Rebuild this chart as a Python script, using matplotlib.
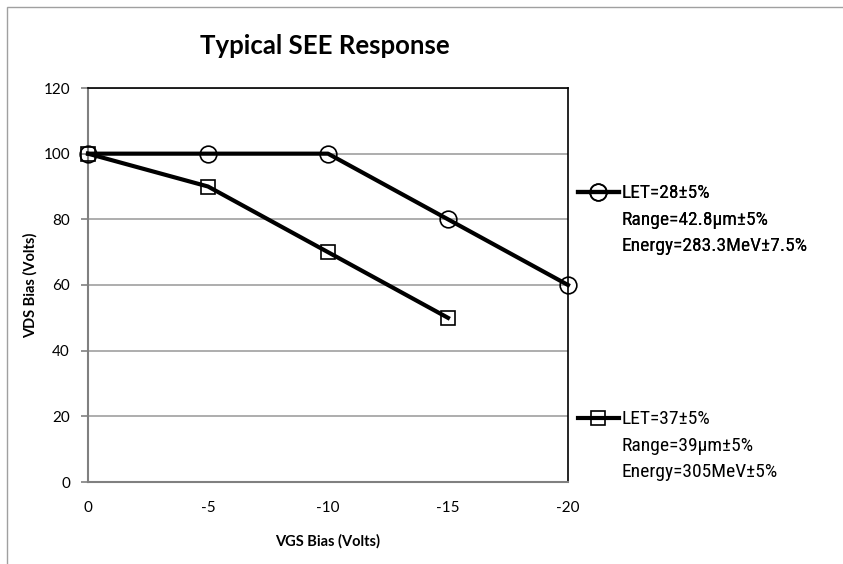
import matplotlib
matplotlib.use("Agg")
import matplotlib.pyplot as plt
from matplotlib.patches import Rectangle

# Data
vgs = [0, -5, -10, -15, -20]
vds_let28 = [100, 100, 100, 80, 60]
vgs_let37 = [0, -5, -10, -15]
vds_let37 = [100, 90, 70, 50]
label_let28 = "LET=28±5%\nRange=42.8µm±5%\nEnergy=283.3MeV±7.5%"
label_let37 = "LET=37±5%\nRange=39µm±5%\nEnergy=305MeV±5%"
yticks = [0, 20, 40, 60, 80, 100, 120]
title = "Typical SEE Response"
xlabel = "VGS Bias (Volts)"
ylabel = "VDS Bias (Volts)"

W, H = 843, 564
fig = plt.figure(figsize=(W / 100, H / 100), dpi=100)
fig.patch.set_facecolor("white")

# figure border (chart area)
fig.patches.append(Rectangle((7 / W, -0.1), 1.2, 1 - 7 / H + 0.1, transform=fig.transFigure,
                             fill=False, edgecolor="#a0a0a0", linewidth=1.0))

ax = fig.add_axes([88 / W, (H - 482) / H, (568 - 88) / W, (482 - 88) / H])

narrow = ["Liberation Sans Narrow", "DejaVu Sans Condensed", "Roboto Condensed",
          "Liberation Sans", "DejaVu Sans"]
cal = ["Lato", "DejaVu Sans"]

l1, = ax.plot(vgs, vds_let28, color="black", linewidth=3, marker="o", markersize=12,
              markerfacecolor="none", markeredgecolor="black", markeredgewidth=1.2,
              label=label_let28, clip_on=False, zorder=3)
l2, = ax.plot(vgs_let37, vds_let37, color="black", linewidth=3, marker="s", markersize=10,
              markerfacecolor="none", markeredgecolor="black", markeredgewidth=1.2,
              label=label_let37, clip_on=False, zorder=3)

ax.set_xlim(0, -20)
ax.set_ylim(0, 120)
ax.set_xticks(vgs)
ax.set_xticklabels([str(v) for v in vgs], fontfamily=cal, fontsize=11)
ax.set_yticks(yticks)
ax.set_yticklabels([str(v) for v in yticks], fontfamily=cal, fontsize=11)
ax.yaxis.grid(True, color="#a0a0a0", linewidth=1.2)
ax.set_axisbelow(True)
ax.tick_params(axis="y", length=5, width=1.2, color="#808080", pad=8)
ax.tick_params(axis="x", length=0, pad=14)
for s in ["left", "bottom"]:
    ax.spines[s].set_color("#808080")
    ax.spines[s].set_linewidth(1.5)
for s in ["top", "right"]:
    ax.spines[s].set_color("black")
    ax.spines[s].set_linewidth(1.2)

fig.text(325 / W, 1 - 46 / H, title, ha="center", va="center", fontfamily=cal,
         fontweight="bold", fontsize=18.5)
fig.text(328 / W, 1 - 541 / H, xlabel, ha="center", va="center", fontfamily=cal,
         fontweight="bold", fontsize=10.5)
fig.text(30 / W, 1 - 285 / H, ylabel, ha="center", va="center", rotation=90,
         fontfamily=cal, fontweight="bold", fontsize=10.5)


def make_legend(handle, label, top_px):
    leg = fig.legend(handles=[handle], labels=[label], loc="upper left",
                     bbox_to_anchor=(578 / W, 1 - top_px / H), frameon=False,
                     prop={"family": narrow, "size": 14}, handlelength=2.1,
                     handleheight=1.2, handletextpad=0.15, borderaxespad=0, borderpad=0)
    for t in leg.get_texts():
        t.set_linespacing(1.62)
    for col in leg._legend_handle_box.get_children():
        for item in col.get_children():
            item.align = "top"
    return leg


leg1 = make_legend(l1, label_let28, 184)
fig.add_artist(leg1)
leg2 = make_legend(l2, label_let37, 410)

fig.savefig("out.png", dpi=100)
